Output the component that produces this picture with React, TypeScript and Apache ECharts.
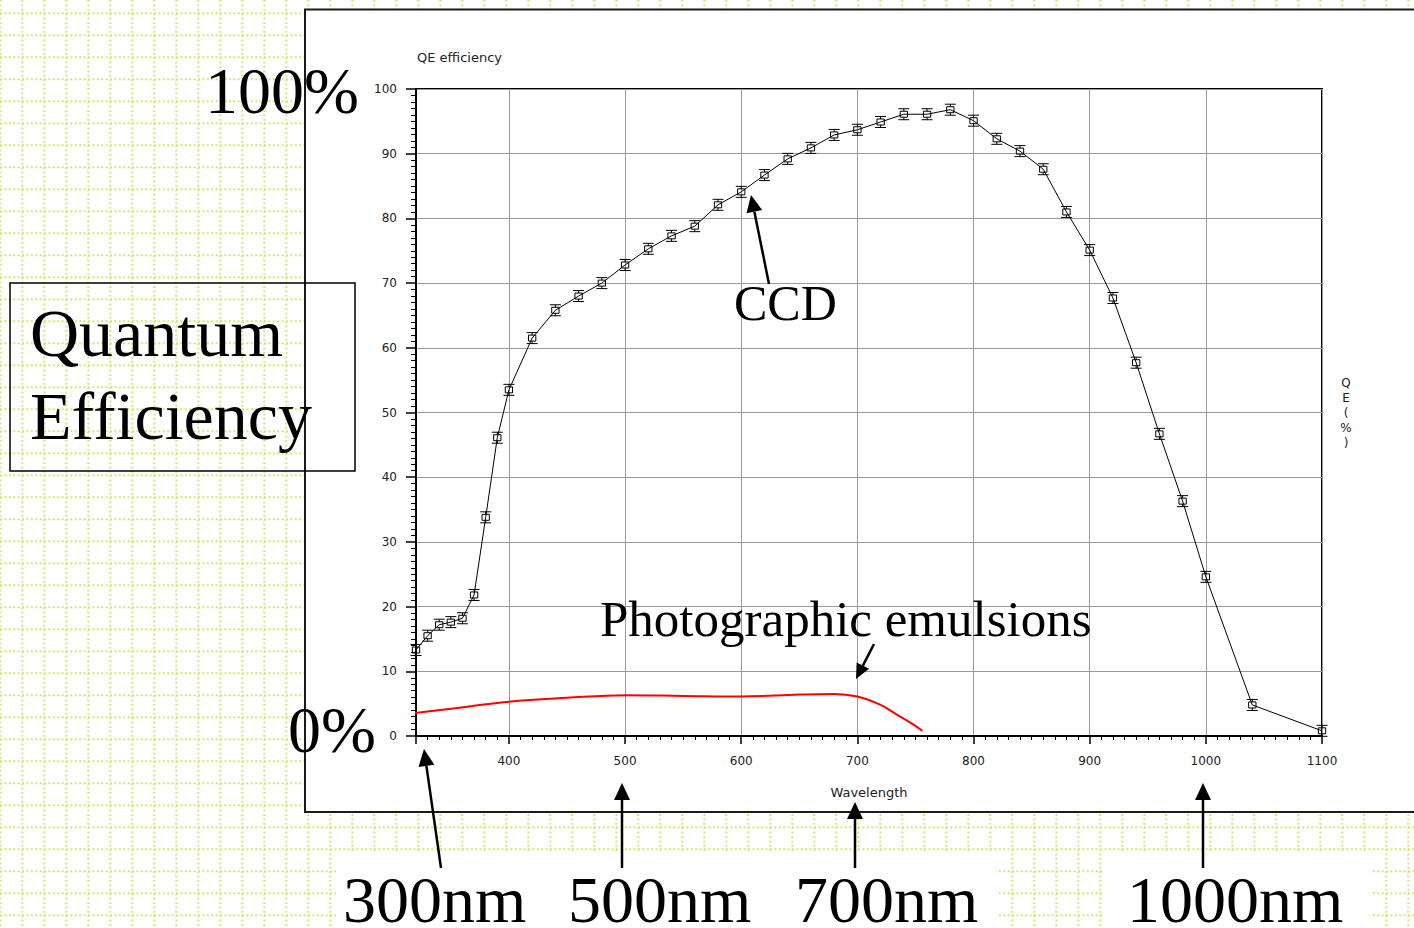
import React, { useEffect, useRef } from "react";
import * as echarts from "echarts";

// ---- Data ----
const ccdWavelength = [320, 330, 340, 350, 360, 370, 380, 390, 400, 420, 440, 460, 480, 500, 520, 540, 560, 580, 600, 620, 640, 660, 680, 700, 720, 740, 760, 780, 800, 820, 840, 860, 880, 900, 920, 940, 960, 980, 1000, 1040, 1100];
const ccdQE = [13.3, 15.5, 17.2, 17.6, 18.2, 21.8, 33.8, 46.1, 53.5, 61.5, 65.8, 68.0, 70.0, 72.8, 75.3, 77.3, 78.8, 82.1, 84.1, 86.7, 89.2, 90.9, 92.9, 93.7, 94.9, 96.1, 96.1, 96.8, 95.1, 92.3, 90.4, 87.6, 81.0, 75.1, 67.7, 57.7, 46.7, 36.3, 24.6, 4.8, 0.8];

const emulsionWavelength = [311, 350, 400, 450, 500, 550, 600, 650, 680, 700, 720, 735, 748, 756];
const emulsionQE = [3.4, 4.2, 5.3, 5.9, 6.3, 6.2, 6.1, 6.4, 6.5, 6.1, 4.8, 3.2, 1.8, 0.8];

const xRange = [320, 1100];
const yRange = [0, 100];
const yInterval = 10;

const chartTitle = "QE efficiency";
const xAxisName = "Wavelength";
const yAxisNameRight = "Q\nE\n(\n%\n)";

const bigLabels = {
  top: "100%",
  bottom: "0%",
  boxLine1: "Quantum",
  boxLine2: "Efficiency",
  ccd: "CCD",
  emulsion: "Photographic emulsions",
  nm: ["300nm", "500nm", "700nm", "1000nm"],
};

const SERIF = "'Liberation Serif', 'Times New Roman', serif";
const SANS = "'DejaVu Sans', 'Liberation Sans', sans-serif";

function arrow(x1: number, y1: number, tx: number, ty: number, headLen = 17, headW = 8) {
  const dx = tx - x1;
  const dy = ty - y1;
  const len = Math.sqrt(dx * dx + dy * dy);
  const ux = dx / len;
  const uy = dy / len;
  const bx = tx - ux * headLen;
  const by = ty - uy * headLen;
  const px = -uy;
  const py = ux;
  return [
    {
      type: "line",
      z: 60,
      silent: true,
      shape: { x1, y1, x2: bx, y2: by },
      style: { stroke: "#000", lineWidth: 2.5 },
    },
    {
      type: "polygon",
      z: 60,
      silent: true,
      shape: {
        points: [
          [tx, ty],
          [bx + px * headW, by + py * headW],
          [bx - px * headW, by - py * headW],
        ],
      },
      style: { fill: "#000" },
    },
  ];
}

function bigText(text: string, x: number, y: number, size: number) {
  return {
    type: "text",
    z: 70,
    silent: true,
    x,
    y,
    style: {
      text,
      fill: "#000",
      font: `${size}px ${SERIF}`,
      textAlign: "left",
      textVerticalAlign: "middle",
      verticalAlign: "middle",
    },
  };
}

export default function App() {
  const ref = useRef<HTMLDivElement>(null);

  useEffect(() => {
    document.body.style.margin = "0";
    if (!ref.current) return;
    const chart = echarts.init(ref.current, null, { renderer: "svg" });

    const W = 1414;
    const H = 928;
    const bg: any[] = [];
    bg.push({ type: "rect", z: -20, silent: true, shape: { x: 0, y: 0, width: W, height: H }, style: { fill: "#fff" } });
    for (let x = 0.3; x < W; x += 22) {
      bg.push({
        type: "line",
        z: -10,
        silent: true,
        shape: { x1: x, y1: 0, x2: x, y2: H },
        style: { stroke: "#d3e873", lineWidth: 2, lineDash: [2, 2.4] },
      });
    }
    for (let y = 13.3; y < H; y += 22) {
      bg.push({
        type: "line",
        z: -10,
        silent: true,
        shape: { x1: 0, y1: y, x2: W, y2: y },
        style: { stroke: "#d3e873", lineWidth: 2, lineDash: [2, 2.4] },
      });
    }
    // chart frame
    bg.push({
      type: "rect",
      z: -5,
      silent: true,
      shape: { x: 305, y: 9.5, width: 1130, height: 802.5 },
      style: { fill: "#fff", stroke: "#1a1a1a", lineWidth: 2 },
    });
    // white boxes behind the bottom labels
    bg.push({ type: "rect", z: -5, silent: true, shape: { x: 336, y: 851, width: 660, height: 80 }, style: { fill: "#fff" } });
    bg.push({ type: "rect", z: -5, silent: true, shape: { x: 1104, y: 851, width: 266, height: 80 }, style: { fill: "#fff" } });

    const annotations: any[] = [
      // Quantum Efficiency box
      {
        type: "rect",
        z: 60,
        silent: true,
        shape: { x: 10, y: 283, width: 345, height: 188 },
        style: { fill: "none", stroke: "#000", lineWidth: 1.5 },
      },
      bigText(bigLabels.boxLine1, 30, 333, 68),
      bigText(bigLabels.boxLine2, 30, 416, 68),
      bigText(bigLabels.top, 205, 90, 66),
      bigText(bigLabels.bottom, 288, 729, 66),
      bigText(bigLabels.ccd, 734, 303, 50),
      bigText(bigLabels.emulsion, 600, 619, 51),
      bigText(bigLabels.nm[0], 343, 899, 66),
      bigText(bigLabels.nm[1], 568, 899, 66),
      bigText(bigLabels.nm[2], 795, 899, 66),
      bigText(bigLabels.nm[3], 1127, 899, 66),
      ...arrow(769, 284, 751, 195),
      ...arrow(874, 644, 856, 679, 15, 7),
      ...arrow(441, 868, 424, 749),
      ...arrow(622, 868, 622, 783),
      ...arrow(855, 868, 855, 802),
      ...arrow(1203, 868, 1203, 783),
      // small chart texts
      {
        type: "text",
        z: 40,
        silent: true,
        x: 417,
        y: 57,
        style: { text: chartTitle, fill: "#222", font: `13px ${SANS}`, textAlign: "left", verticalAlign: "middle", textVerticalAlign: "middle" },
      },
      {
        type: "text",
        z: 40,
        silent: true,
        x: 1346,
        y: 413,
        style: {
          text: yAxisNameRight,
          fill: "#222",
          font: `12px ${SANS}`,
          lineHeight: 15,
          textAlign: "center",
          verticalAlign: "middle",
          textVerticalAlign: "middle",
        },
      },
    ];

    const ccdData = ccdWavelength.map((w, i) => [w, ccdQE[i]]);
    const emData = emulsionWavelength.map((w, i) => [w, emulsionQE[i]]);

    const markerPath =
      "path://M2,3L10,3L10,9L2,9Z M0,0.5L12,0.5 M0,11.5L12,11.5 M6,0.5L6,3 M6,9L6,11.5";

    chart.setOption({
      animation: false,
      backgroundColor: "transparent",
      graphic: { elements: [...bg, ...annotations] },
      grid: {
        left: 416,
        right: 92,
        top: 89,
        bottom: 192,
        show: true,
        borderColor: "#000",
        borderWidth: 2,
        backgroundColor: "transparent",
        containLabel: false,
      },
      xAxis: {
        type: "value",
        min: xRange[0],
        max: xRange[1],
        splitNumber: 8,
        name: xAxisName,
        nameLocation: "middle",
        nameGap: 50,
        nameTextStyle: { color: "#222", fontSize: 13, fontFamily: SANS },
        axisLine: { show: true, onZero: false, lineStyle: { color: "#000", width: 2 } },
        axisTick: { show: true, length: 8, lineStyle: { color: "#000", width: 1.5 } },
        minorTick: { show: true, splitNumber: 10, length: 4, lineStyle: { color: "#000", width: 1 } },
        axisLabel: {
          show: true,
          margin: 19,
          color: "#222",
          fontSize: 12,
          fontFamily: SANS,
          showMinLabel: false,
          formatter: (v: number) => String(v),
        },
        splitLine: { show: true, lineStyle: { color: "#9a9a9a", width: 1 } },
      },
      yAxis: {
        type: "value",
        min: yRange[0],
        max: yRange[1],
        interval: yInterval,
        axisLine: { show: true, onZero: false, lineStyle: { color: "#000", width: 2 } },
        axisTick: { show: true, length: 10, lineStyle: { color: "#000", width: 1.5 } },
        minorTick: { show: true, splitNumber: 10, length: 5, lineStyle: { color: "#000", width: 1 } },
        axisLabel: { show: true, margin: 19, color: "#222", fontSize: 12, fontFamily: SANS, formatter: (v: number) => String(v) },
        splitLine: { show: true, lineStyle: { color: "#9a9a9a", width: 1 } },
      },
      series: [
        {
          name: "CCD",
          type: "line",
          data: ccdData,
          symbol: markerPath,
          symbolSize: [11, 11],
          showAllSymbol: true,
          itemStyle: { color: "rgba(255,255,255,0)", borderColor: "#000", borderWidth: 1 },
          lineStyle: { color: "#000", width: 1 },
          z: 5,
        },
        {
          name: "Photographic emulsions",
          type: "line",
          data: emData,
          symbol: "none",
          smooth: 0.4,
          clip: false,
          lineStyle: { color: "#ff0000", width: 2 },
          z: 4,
        },
      ],
    });

    return () => chart.dispose();
  }, []);

  return (
    <div
      ref={ref}
      style={{ position: "absolute", left: 0, top: 0, width: 1414, height: 928 }}
    />
  );
}
